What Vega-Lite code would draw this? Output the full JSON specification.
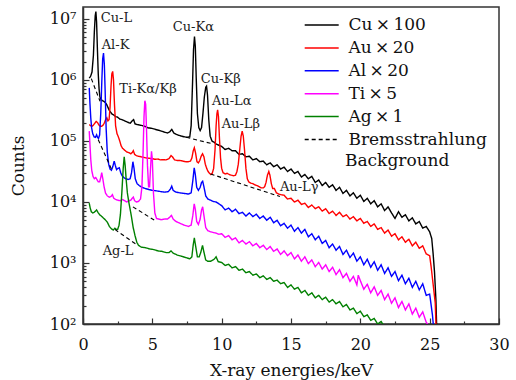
{
  "$schema": "https://vega.github.io/schema/vega-lite/v6.json",
  "width": 416,
  "height": 317,
  "autosize": {"type": "none"},
  "padding": {"left": 83, "top": 7, "right": 17, "bottom": 56},
  "config": {
    "view": {"stroke": "#333333", "strokeWidth": 1.5},
    "font": "DejaVu Serif, Liberation Serif, serif",
    "axis": {
      "grid": false,
      "domainColor": "#333333",
      "domainWidth": 1.5,
      "tickColor": "#333333",
      "tickWidth": 1.2,
      "labelFont": "DejaVu Serif, Liberation Serif, serif",
      "labelFontSize": 16,
      "labelColor": "#111111",
      "titleFont": "DejaVu Serif, Liberation Serif, serif",
      "titleFontSize": 17,
      "titleFontWeight": "normal",
      "titleColor": "#111111"
    },
    "legend": {
      "orient": "none",
      "legendX": 230.2,
      "legendY": 9.5,
      "symbolType": "M-2.5,0H2.5",
      "symbolSize": 185,
      "symbolStrokeWidth": 1.5,
      "labelFont": "DejaVu Serif, Liberation Serif, serif",
      "labelFontSize": 17,
      "labelColor": "#111111",
      "labelOffset": 18.2,
      "rowPadding": 4.9,
      "labelLimit": 300
    }
  },
  "datasets": {
    "spectra": [
      {"s":"Cu","e":0.45,"c":1.07e6},{"s":"Cu","e":0.55,"c":1.15e6},{"s":"Cu","e":0.65,"c":1.35e6},{"s":"Cu","e":0.75,"c":2.51e6},{"s":"Cu","e":0.82,"c":6.31e6},{"s":"Cu","e":0.88,"c":1.12e7},{"s":"Cu","e":0.93,"c":1.32e7},{"s":"Cu","e":0.98,"c":8.91e6},{"s":"Cu","e":1.04,"c":3.16e6},{"s":"Cu","e":1.1,"c":1.26e6},{"s":"Cu","e":1.16,"c":7.08e5},{"s":"Cu","e":1.22,"c":5.25e5},{"s":"Cu","e":1.3,"c":4.79e5},{"s":"Cu","e":1.4,"c":4.57e5},{"s":"Cu","e":1.5,"c":4.47e5},{"s":"Cu","e":1.6,"c":4.27e5},{"s":"Cu","e":1.7,"c":3.98e5},{"s":"Cu","e":1.8,"c":3.55e5},{"s":"Cu","e":1.9,"c":3.16e5},{"s":"Cu","e":2.0,"c":2.95e5},{"s":"Cu","e":2.1,"c":2.75e5},{"s":"Cu","e":2.2,"c":2.69e5},{"s":"Cu","e":2.35,"c":2.51e5},{"s":"Cu","e":2.5,"c":2.45e5},{"s":"Cu","e":2.65,"c":2.29e5},{"s":"Cu","e":2.8,"c":2.24e5},{"s":"Cu","e":3.0,"c":2.14e5},{"s":"Cu","e":3.2,"c":2.04e5},{"s":"Cu","e":3.4,"c":1.95e5},{"s":"Cu","e":3.55,"c":2.14e5},{"s":"Cu","e":3.65,"c":2.24e5},{"s":"Cu","e":3.75,"c":1.91e5},{"s":"Cu","e":3.9,"c":1.86e5},{"s":"Cu","e":4.1,"c":1.82e5},{"s":"Cu","e":4.3,"c":1.78e5},{"s":"Cu","e":4.5,"c":1.72e5},{"s":"Cu","e":4.7,"c":1.64e5},{"s":"Cu","e":4.9,"c":1.62e5},{"s":"Cu","e":5.1,"c":1.58e5},{"s":"Cu","e":5.3,"c":1.53e5},{"s":"Cu","e":5.5,"c":1.49e5},{"s":"Cu","e":5.7,"c":1.44e5},{"s":"Cu","e":5.9,"c":1.39e5},{"s":"Cu","e":6.1,"c":1.35e5},{"s":"Cu","e":6.25,"c":1.41e5},{"s":"Cu","e":6.4,"c":1.55e5},{"s":"Cu","e":6.55,"c":1.35e5},{"s":"Cu","e":6.7,"c":1.29e5},{"s":"Cu","e":6.9,"c":1.24e5},{"s":"Cu","e":7.1,"c":1.20e5},{"s":"Cu","e":7.3,"c":1.17e5},{"s":"Cu","e":7.5,"c":1.15e5},{"s":"Cu","e":7.7,"c":1.17e5},{"s":"Cu","e":7.8,"c":1.78e5},{"s":"Cu","e":7.9,"c":8.91e5},{"s":"Cu","e":7.97,"c":3.16e6},{"s":"Cu","e":8.04,"c":5.13e6},{"s":"Cu","e":8.1,"c":3.55e6},{"s":"Cu","e":8.17,"c":1.0e6},{"s":"Cu","e":8.25,"c":2.82e5},{"s":"Cu","e":8.35,"c":1.66e5},{"s":"Cu","e":8.45,"c":1.48e5},{"s":"Cu","e":8.55,"c":1.66e5},{"s":"Cu","e":8.65,"c":2.82e5},{"s":"Cu","e":8.75,"c":5.25e5},{"s":"Cu","e":8.85,"c":7.59e5},{"s":"Cu","e":8.91,"c":7.94e5},{"s":"Cu","e":8.98,"c":5.62e5},{"s":"Cu","e":9.07,"c":2.24e5},{"s":"Cu","e":9.17,"c":1.20e5},{"s":"Cu","e":9.3,"c":1.0e5},{"s":"Cu","e":9.45,"c":9.55e4},{"s":"Cu","e":9.6,"c":8.91e4},{"s":"Cu","e":9.8,"c":8.51e4},
      {"s":"Cu","e":10.0,"c":8.13e4},{"s":"Cu","e":10.25,"c":7.24e4},{"s":"Cu","e":10.5,"c":7.59e4},{"s":"Cu","e":10.75,"c":6.92e4},{"s":"Cu","e":11.0,"c":6.92e4},{"s":"Cu","e":11.25,"c":6.03e4},{"s":"Cu","e":11.5,"c":6.17e4},{"s":"Cu","e":11.75,"c":5.50e4},{"s":"Cu","e":12.0,"c":5.62e4},{"s":"Cu","e":12.25,"c":4.90e4},{"s":"Cu","e":12.5,"c":5.13e4},{"s":"Cu","e":12.75,"c":4.57e4},{"s":"Cu","e":13.0,"c":4.68e4},{"s":"Cu","e":13.25,"c":4.07e4},{"s":"Cu","e":13.5,"c":4.37e4},{"s":"Cu","e":13.75,"c":3.80e4},{"s":"Cu","e":14.0,"c":4.07e4},{"s":"Cu","e":14.25,"c":3.47e4},{"s":"Cu","e":14.5,"c":3.72e4},{"s":"Cu","e":14.75,"c":3.16e4},{"s":"Cu","e":15.0,"c":3.47e4},{"s":"Cu","e":15.25,"c":2.95e4},{"s":"Cu","e":15.5,"c":3.16e4},{"s":"Cu","e":15.75,"c":2.57e4},{"s":"Cu","e":16.0,"c":2.82e4},{"s":"Cu","e":16.25,"c":2.40e4},{"s":"Cu","e":16.5,"c":2.63e4},{"s":"Cu","e":16.75,"c":2.09e4},{"s":"Cu","e":17.0,"c":2.29e4},{"s":"Cu","e":17.25,"c":1.86e4},{"s":"Cu","e":17.5,"c":2.09e4},{"s":"Cu","e":17.75,"c":1.74e4},{"s":"Cu","e":18.0,"c":1.91e4},{"s":"Cu","e":18.25,"c":1.55e4},{"s":"Cu","e":18.5,"c":1.74e4},{"s":"Cu","e":18.75,"c":1.38e4},{"s":"Cu","e":19.0,"c":1.55e4},{"s":"Cu","e":19.25,"c":1.26e4},{"s":"Cu","e":19.5,"c":1.41e4},{"s":"Cu","e":19.75,"c":1.15e4},{"s":"Cu","e":20.0,"c":1.29e4},{"s":"Cu","e":20.25,"c":1.02e4},{"s":"Cu","e":20.5,"c":1.15e4},{"s":"Cu","e":20.75,"c":9.33e3},{"s":"Cu","e":21.0,"c":1.05e4},{"s":"Cu","e":21.25,"c":8.32e3},{"s":"Cu","e":21.5,"c":9.33e3},{"s":"Cu","e":21.75,"c":7.24e3},{"s":"Cu","e":22.0,"c":8.32e3},{"s":"Cu","e":22.25,"c":6.61e3},{"s":"Cu","e":22.5,"c":5.37e3},{"s":"Cu","e":22.75,"c":6.92e3},{"s":"Cu","e":23.0,"c":5.62e3},{"s":"Cu","e":23.25,"c":6.17e3},{"s":"Cu","e":23.5,"c":4.90e3},{"s":"Cu","e":23.75,"c":5.50e3},{"s":"Cu","e":24.0,"c":4.37e3},{"s":"Cu","e":24.25,"c":4.79e3},{"s":"Cu","e":24.5,"c":3.72e3},{"s":"Cu","e":24.75,"c":3.98e3},{"s":"Cu","e":25.0,"c":3.24e3},{"s":"Cu","e":25.15,"c":2.51e3},{"s":"Cu","e":25.25,"c":1.41e3},{"s":"Cu","e":25.35,"c":708},{"s":"Cu","e":25.45,"c":251},{"s":"Cu","e":25.55,"c":40},

      {"s":"Au","e":0.45,"c":1.86e5},{"s":"Au","e":0.55,"c":1.78e5},{"s":"Au","e":0.65,"c":1.74e5},{"s":"Au","e":0.75,"c":1.82e5},{"s":"Au","e":0.85,"c":1.95e5},{"s":"Au","e":0.95,"c":2.09e5},{"s":"Au","e":1.05,"c":2.0e5},{"s":"Au","e":1.15,"c":1.82e5},{"s":"Au","e":1.25,"c":1.74e5},{"s":"Au","e":1.35,"c":1.74e5},{"s":"Au","e":1.45,"c":1.82e5},{"s":"Au","e":1.55,"c":2.0e5},{"s":"Au","e":1.65,"c":2.29e5},{"s":"Au","e":1.72,"c":2.40e5},{"s":"Au","e":1.8,"c":2.14e5},{"s":"Au","e":1.88,"c":2.24e5},{"s":"Au","e":1.95,"c":3.55e5},{"s":"Au","e":2.02,"c":7.94e5},{"s":"Au","e":2.08,"c":1.26e6},{"s":"Au","e":2.14,"c":1.38e6},{"s":"Au","e":2.2,"c":1.0e6},{"s":"Au","e":2.27,"c":3.98e5},{"s":"Au","e":2.35,"c":1.78e5},{"s":"Au","e":2.45,"c":1.32e5},{"s":"Au","e":2.55,"c":1.17e5},{"s":"Au","e":2.65,"c":1.0e5},{"s":"Au","e":2.75,"c":8.32e4},{"s":"Au","e":2.85,"c":7.59e4},{"s":"Au","e":3.0,"c":7.08e4},{"s":"Au","e":3.15,"c":6.61e4},{"s":"Au","e":3.3,"c":6.46e4},{"s":"Au","e":3.45,"c":6.17e4},{"s":"Au","e":3.55,"c":6.46e4},{"s":"Au","e":3.63,"c":6.92e4},{"s":"Au","e":3.72,"c":6.03e4},{"s":"Au","e":3.85,"c":5.75e4},{"s":"Au","e":4.0,"c":5.62e4},{"s":"Au","e":4.2,"c":5.50e4},{"s":"Au","e":4.4,"c":5.37e4},{"s":"Au","e":4.6,"c":5.25e4},{"s":"Au","e":4.8,"c":5.20e4},{"s":"Au","e":5.0,"c":5.13e4},{"s":"Au","e":5.2,"c":5.01e4},{"s":"Au","e":5.4,"c":5.05e4},{"s":"Au","e":5.6,"c":4.90e4},{"s":"Au","e":5.8,"c":4.93e4},{"s":"Au","e":6.0,"c":4.90e4},{"s":"Au","e":6.2,"c":5.13e4},{"s":"Au","e":6.35,"c":5.75e4},{"s":"Au","e":6.45,"c":5.50e4},{"s":"Au","e":6.6,"c":4.90e4},{"s":"Au","e":6.8,"c":4.79e4},{"s":"Au","e":7.0,"c":4.79e4},{"s":"Au","e":7.2,"c":4.68e4},{"s":"Au","e":7.4,"c":4.57e4},{"s":"Au","e":7.6,"c":4.57e4},{"s":"Au","e":7.75,"c":4.68e4},{"s":"Au","e":7.85,"c":5.25e4},{"s":"Au","e":7.95,"c":6.92e4},{"s":"Au","e":8.03,"c":7.76e4},{"s":"Au","e":8.12,"c":6.31e4},{"s":"Au","e":8.22,"c":4.57e4},{"s":"Au","e":8.32,"c":4.37e4},{"s":"Au","e":8.42,"c":4.79e4},{"s":"Au","e":8.52,"c":5.62e4},{"s":"Au","e":8.62,"c":6.17e4},{"s":"Au","e":8.72,"c":5.50e4},{"s":"Au","e":8.82,"c":4.17e4},{"s":"Au","e":8.92,"c":3.55e4},{"s":"Au","e":9.02,"c":3.16e4},{"s":"Au","e":9.12,"c":2.95e4},{"s":"Au","e":9.22,"c":2.82e4},{"s":"Au","e":9.32,"c":2.95e4},{"s":"Au","e":9.42,"c":3.55e4},{"s":"Au","e":9.52,"c":7.08e4},{"s":"Au","e":9.6,"c":1.78e5},{"s":"Au","e":9.66,"c":2.82e5},{"s":"Au","e":9.71,"c":3.24e5},{"s":"Au","e":9.77,"c":2.51e5},{"s":"Au","e":9.84,"c":1.12e5},{"s":"Au","e":9.92,"c":5.25e4},{"s":"Au","e":10.0,"c":3.55e4},{"s":"Au","e":10.1,"c":3.02e4},{"s":"Au","e":10.25,"c":2.88e4},{"s":"Au","e":10.4,"c":2.95e4},{"s":"Au","e":10.55,"c":2.82e4},{"s":"Au","e":10.7,"c":2.75e4},{"s":"Au","e":10.85,"c":2.69e4},{"s":"Au","e":11.0,"c":2.75e4},{"s":"Au","e":11.1,"c":3.16e4},{"s":"Au","e":11.2,"c":4.17e4},{"s":"Au","e":11.3,"c":7.08e4},{"s":"Au","e":11.4,"c":1.20e5},{"s":"Au","e":11.48,"c":1.45e5},{"s":"Au","e":11.56,"c":1.20e5},{"s":"Au","e":11.65,"c":7.08e4},{"s":"Au","e":11.75,"c":3.55e4},{"s":"Au","e":11.85,"c":2.40e4},{"s":"Au","e":11.95,"c":2.14e4},{"s":"Au","e":12.1,"c":2.04e4},{"s":"Au","e":12.25,"c":2.0e4},{"s":"Au","e":12.4,"c":1.91e4},{"s":"Au","e":12.55,"c":1.86e4},{"s":"Au","e":12.7,"c":1.78e4},{"s":"Au","e":12.85,"c":1.70e4},{"s":"Au","e":13.0,"c":1.70e4},{"s":"Au","e":13.1,"c":1.78e4},{"s":"Au","e":13.2,"c":2.09e4},{"s":"Au","e":13.3,"c":2.75e4},{"s":"Au","e":13.4,"c":3.16e4},{"s":"Au","e":13.48,"c":2.75e4},{"s":"Au","e":13.58,"c":2.0e4},{"s":"Au","e":13.68,"c":1.66e4},{"s":"Au","e":13.8,"c":1.66e4},{"s":"Au","e":13.95,"c":1.41e4},{"s":"Au","e":14.1,"c":1.35e4},{"s":"Au","e":14.25,"c":1.32e4},
      {"s":"Au","e":14.5,"c":1.29e4},{"s":"Au","e":14.75,"c":1.12e4},{"s":"Au","e":15.0,"c":1.15e4},{"s":"Au","e":15.25,"c":1.0e4},{"s":"Au","e":15.5,"c":1.07e4},{"s":"Au","e":15.75,"c":9.12e3},{"s":"Au","e":16.0,"c":9.55e3},{"s":"Au","e":16.25,"c":8.13e3},{"s":"Au","e":16.5,"c":8.91e3},{"s":"Au","e":16.75,"c":7.76e3},{"s":"Au","e":17.0,"c":8.32e3},{"s":"Au","e":17.25,"c":7.08e3},{"s":"Au","e":17.5,"c":7.76e3},{"s":"Au","e":17.75,"c":6.46e3},{"s":"Au","e":18.0,"c":7.08e3},{"s":"Au","e":18.25,"c":6.03e3},{"s":"Au","e":18.5,"c":6.76e3},{"s":"Au","e":18.75,"c":5.75e3},{"s":"Au","e":19.0,"c":6.17e3},{"s":"Au","e":19.25,"c":5.25e3},{"s":"Au","e":19.5,"c":5.75e3},{"s":"Au","e":19.75,"c":4.90e3},{"s":"Au","e":20.0,"c":5.37e3},{"s":"Au","e":20.25,"c":4.47e3},{"s":"Au","e":20.5,"c":4.79e3},{"s":"Au","e":20.75,"c":3.98e3},{"s":"Au","e":21.0,"c":4.37e3},{"s":"Au","e":21.25,"c":3.55e3},{"s":"Au","e":21.5,"c":3.80e3},{"s":"Au","e":21.75,"c":3.09e3},{"s":"Au","e":22.0,"c":3.47e3},{"s":"Au","e":22.25,"c":2.75e3},{"s":"Au","e":22.5,"c":3.02e3},{"s":"Au","e":22.75,"c":2.40e3},{"s":"Au","e":23.0,"c":2.69e3},{"s":"Au","e":23.25,"c":2.19e3},{"s":"Au","e":23.5,"c":2.45e3},{"s":"Au","e":23.75,"c":1.91e3},{"s":"Au","e":24.0,"c":2.19e3},{"s":"Au","e":24.25,"c":1.74e3},{"s":"Au","e":24.5,"c":1.91e3},{"s":"Au","e":24.75,"c":1.41e3},{"s":"Au","e":25.0,"c":1.32e3},{"s":"Au","e":25.1,"c":891},{"s":"Au","e":25.2,"c":562},{"s":"Au","e":25.3,"c":355},{"s":"Au","e":25.4,"c":224},{"s":"Au","e":25.5,"c":50},

      {"s":"Al","e":0.45,"c":7.41e5},{"s":"Al","e":0.5,"c":4.17e5},{"s":"Al","e":0.56,"c":2.40e5},{"s":"Al","e":0.62,"c":1.66e5},{"s":"Al","e":0.7,"c":1.32e5},{"s":"Al","e":0.8,"c":1.17e5},{"s":"Al","e":0.9,"c":1.15e5},{"s":"Al","e":0.98,"c":1.26e5},{"s":"Al","e":1.05,"c":1.15e5},{"s":"Al","e":1.12,"c":1.10e5},{"s":"Al","e":1.2,"c":1.26e5},{"s":"Al","e":1.28,"c":2.82e5},{"s":"Al","e":1.36,"c":1.0e6},{"s":"Al","e":1.42,"c":2.24e6},{"s":"Al","e":1.48,"c":2.75e6},{"s":"Al","e":1.54,"c":1.78e6},{"s":"Al","e":1.6,"c":6.31e5},{"s":"Al","e":1.67,"c":1.58e5},{"s":"Al","e":1.75,"c":6.61e4},{"s":"Al","e":1.85,"c":4.17e4},{"s":"Al","e":1.95,"c":3.47e4},{"s":"Al","e":2.05,"c":3.31e4},{"s":"Al","e":2.15,"c":3.80e4},{"s":"Al","e":2.25,"c":4.68e4},{"s":"Al","e":2.33,"c":3.98e4},{"s":"Al","e":2.42,"c":3.39e4},{"s":"Al","e":2.52,"c":3.55e4},{"s":"Al","e":2.62,"c":3.63e4},{"s":"Al","e":2.72,"c":3.02e4},{"s":"Al","e":2.82,"c":2.69e4},{"s":"Al","e":2.95,"c":2.51e4},{"s":"Al","e":3.1,"c":2.40e4},{"s":"Al","e":3.25,"c":2.34e4},{"s":"Al","e":3.4,"c":2.40e4},{"s":"Al","e":3.5,"c":3.02e4},{"s":"Al","e":3.6,"c":4.57e4},{"s":"Al","e":3.68,"c":3.55e4},{"s":"Al","e":3.77,"c":2.40e4},{"s":"Al","e":3.9,"c":2.0e4},{"s":"Al","e":4.05,"c":1.86e4},{"s":"Al","e":4.25,"c":1.74e4},{"s":"Al","e":4.5,"c":1.66e4},{"s":"Al","e":4.75,"c":1.60e4},{"s":"Al","e":5.0,"c":1.55e4},{"s":"Al","e":5.3,"c":1.52e4},{"s":"Al","e":5.6,"c":1.48e4},{"s":"Al","e":5.9,"c":1.45e4},{"s":"Al","e":6.15,"c":1.48e4},{"s":"Al","e":6.3,"c":1.62e4},{"s":"Al","e":6.4,"c":1.82e4},{"s":"Al","e":6.5,"c":1.55e4},{"s":"Al","e":6.7,"c":1.45e4},{"s":"Al","e":7.0,"c":1.41e4},{"s":"Al","e":7.3,"c":1.38e4},{"s":"Al","e":7.6,"c":1.35e4},{"s":"Al","e":7.8,"c":1.41e4},{"s":"Al","e":7.92,"c":2.24e4},{"s":"Al","e":8.02,"c":3.63e4},{"s":"Al","e":8.1,"c":2.82e4},{"s":"Al","e":8.2,"c":1.74e4},{"s":"Al","e":8.32,"c":1.55e4},{"s":"Al","e":8.45,"c":1.74e4},{"s":"Al","e":8.55,"c":2.09e4},{"s":"Al","e":8.63,"c":2.19e4},{"s":"Al","e":8.72,"c":1.78e4},{"s":"Al","e":8.85,"c":1.26e4},{"s":"Al","e":9.0,"c":1.12e4},{"s":"Al","e":9.2,"c":1.07e4},{"s":"Al","e":9.4,"c":1.02e4},{"s":"Al","e":9.6,"c":1.0e4},{"s":"Al","e":9.8,"c":9.33e3},
      {"s":"Al","e":10.0,"c":8.71e3},{"s":"Al","e":10.25,"c":7.41e3},{"s":"Al","e":10.5,"c":7.94e3},{"s":"Al","e":10.75,"c":6.92e3},{"s":"Al","e":11.0,"c":7.59e3},{"s":"Al","e":11.25,"c":6.46e3},{"s":"Al","e":11.5,"c":6.76e3},{"s":"Al","e":11.75,"c":5.89e3},{"s":"Al","e":12.0,"c":6.61e3},{"s":"Al","e":12.25,"c":5.75e3},{"s":"Al","e":12.5,"c":6.31e3},{"s":"Al","e":12.75,"c":5.37e3},{"s":"Al","e":13.0,"c":5.89e3},{"s":"Al","e":13.25,"c":5.01e3},{"s":"Al","e":13.5,"c":5.62e3},{"s":"Al","e":13.75,"c":4.57e3},{"s":"Al","e":14.0,"c":5.01e3},{"s":"Al","e":14.25,"c":4.07e3},{"s":"Al","e":14.5,"c":4.47e3},{"s":"Al","e":14.75,"c":3.72e3},{"s":"Al","e":15.0,"c":4.17e3},{"s":"Al","e":15.25,"c":3.31e3},{"s":"Al","e":15.5,"c":3.80e3},{"s":"Al","e":15.75,"c":3.09e3},{"s":"Al","e":16.0,"c":3.55e3},{"s":"Al","e":16.25,"c":2.69e3},{"s":"Al","e":16.5,"c":3.02e3},{"s":"Al","e":16.75,"c":2.40e3},{"s":"Al","e":17.0,"c":2.75e3},{"s":"Al","e":17.25,"c":2.09e3},{"s":"Al","e":17.5,"c":2.34e3},{"s":"Al","e":17.75,"c":1.78e3},{"s":"Al","e":18.0,"c":2.04e3},{"s":"Al","e":18.25,"c":1.62e3},{"s":"Al","e":18.5,"c":1.86e3},{"s":"Al","e":18.75,"c":1.38e3},{"s":"Al","e":19.0,"c":1.62e3},{"s":"Al","e":19.25,"c":1.23e3},{"s":"Al","e":19.5,"c":1.45e3},{"s":"Al","e":19.75,"c":1.07e3},{"s":"Al","e":20.0,"c":1.26e3},{"s":"Al","e":20.25,"c":933},{"s":"Al","e":20.5,"c":1.15e3},{"s":"Al","e":20.75,"c":851},{"s":"Al","e":21.0,"c":1.05e3},{"s":"Al","e":21.25,"c":759},{"s":"Al","e":21.5,"c":933},{"s":"Al","e":21.75,"c":676},{"s":"Al","e":22.0,"c":832},{"s":"Al","e":22.25,"c":603},{"s":"Al","e":22.5,"c":724},{"s":"Al","e":22.75,"c":513},{"s":"Al","e":23.0,"c":631},{"s":"Al","e":23.25,"c":457},{"s":"Al","e":23.5,"c":562},{"s":"Al","e":23.75,"c":398},{"s":"Al","e":24.0,"c":501},{"s":"Al","e":24.25,"c":363},{"s":"Al","e":24.5,"c":457},{"s":"Al","e":24.75,"c":295},{"s":"Al","e":25.0,"c":309},{"s":"Al","e":25.1,"c":209},{"s":"Al","e":25.2,"c":141},{"s":"Al","e":25.3,"c":79},{"s":"Al","e":25.35,"c":40},

      {"s":"Ti","e":0.45,"c":1.45e5},{"s":"Ti","e":0.5,"c":8.91e4},{"s":"Ti","e":0.56,"c":5.01e4},{"s":"Ti","e":0.63,"c":3.31e4},{"s":"Ti","e":0.72,"c":2.63e4},{"s":"Ti","e":0.82,"c":2.40e4},{"s":"Ti","e":0.92,"c":2.51e4},{"s":"Ti","e":1.0,"c":2.34e4},{"s":"Ti","e":1.1,"c":2.14e4},{"s":"Ti","e":1.2,"c":2.14e4},{"s":"Ti","e":1.28,"c":2.51e4},{"s":"Ti","e":1.35,"c":3.02e4},{"s":"Ti","e":1.43,"c":2.40e4},{"s":"Ti","e":1.52,"c":1.78e4},{"s":"Ti","e":1.62,"c":1.41e4},{"s":"Ti","e":1.75,"c":1.26e4},{"s":"Ti","e":1.9,"c":1.20e4},{"s":"Ti","e":2.02,"c":1.23e4},{"s":"Ti","e":2.12,"c":1.32e4},{"s":"Ti","e":2.22,"c":1.15e4},{"s":"Ti","e":2.35,"c":1.10e4},{"s":"Ti","e":2.5,"c":1.07e4},{"s":"Ti","e":2.7,"c":1.05e4},{"s":"Ti","e":2.85,"c":1.10e4},{"s":"Ti","e":3.0,"c":1.05e4},{"s":"Ti","e":3.15,"c":1.0e4},{"s":"Ti","e":3.3,"c":1.05e4},{"s":"Ti","e":3.45,"c":1.07e4},{"s":"Ti","e":3.55,"c":1.15e4},{"s":"Ti","e":3.63,"c":1.20e4},{"s":"Ti","e":3.72,"c":1.05e4},{"s":"Ti","e":3.85,"c":1.0e4},{"s":"Ti","e":4.0,"c":1.02e4},{"s":"Ti","e":4.15,"c":1.12e4},{"s":"Ti","e":4.25,"c":1.78e4},{"s":"Ti","e":4.33,"c":6.31e4},{"s":"Ti","e":4.4,"c":2.51e5},{"s":"Ti","e":4.46,"c":4.57e5},{"s":"Ti","e":4.52,"c":3.98e5},{"s":"Ti","e":4.58,"c":1.58e5},{"s":"Ti","e":4.65,"c":3.98e4},{"s":"Ti","e":4.73,"c":1.78e4},{"s":"Ti","e":4.8,"c":1.78e4},{"s":"Ti","e":4.87,"c":3.55e4},{"s":"Ti","e":4.94,"c":6.76e4},{"s":"Ti","e":5.0,"c":5.01e4},{"s":"Ti","e":5.08,"c":1.41e4},{"s":"Ti","e":5.18,"c":6.61e3},{"s":"Ti","e":5.3,"c":5.37e3},{"s":"Ti","e":5.45,"c":5.25e3},{"s":"Ti","e":5.65,"c":5.13e3},{"s":"Ti","e":5.9,"c":5.25e3},{"s":"Ti","e":6.1,"c":5.25e3},{"s":"Ti","e":6.25,"c":5.62e3},{"s":"Ti","e":6.38,"c":6.03e3},{"s":"Ti","e":6.5,"c":5.25e3},{"s":"Ti","e":6.7,"c":4.79e3},{"s":"Ti","e":7.0,"c":4.47e3},{"s":"Ti","e":7.3,"c":4.17e3},{"s":"Ti","e":7.6,"c":3.98e3},{"s":"Ti","e":7.8,"c":4.17e3},{"s":"Ti","e":7.92,"c":6.03e3},{"s":"Ti","e":8.02,"c":9.33e3},{"s":"Ti","e":8.1,"c":7.59e3},{"s":"Ti","e":8.2,"c":4.79e3},{"s":"Ti","e":8.32,"c":4.27e3},{"s":"Ti","e":8.45,"c":5.25e3},{"s":"Ti","e":8.55,"c":7.41e3},{"s":"Ti","e":8.63,"c":8.32e3},{"s":"Ti","e":8.72,"c":6.03e3},{"s":"Ti","e":8.85,"c":3.80e3},{"s":"Ti","e":9.0,"c":3.39e3},{"s":"Ti","e":9.2,"c":3.24e3},{"s":"Ti","e":9.4,"c":3.16e3},{"s":"Ti","e":9.6,"c":3.09e3},{"s":"Ti","e":9.8,"c":2.95e3},
      {"s":"Ti","e":10.0,"c":3.02e3},{"s":"Ti","e":10.25,"c":2.63e3},{"s":"Ti","e":10.5,"c":2.82e3},{"s":"Ti","e":10.75,"c":2.40e3},{"s":"Ti","e":11.0,"c":2.57e3},{"s":"Ti","e":11.25,"c":2.14e3},{"s":"Ti","e":11.5,"c":2.34e3},{"s":"Ti","e":11.75,"c":2.04e3},{"s":"Ti","e":12.0,"c":2.24e3},{"s":"Ti","e":12.25,"c":1.91e3},{"s":"Ti","e":12.5,"c":2.09e3},{"s":"Ti","e":12.75,"c":1.78e3},{"s":"Ti","e":13.0,"c":1.95e3},{"s":"Ti","e":13.25,"c":1.66e3},{"s":"Ti","e":13.5,"c":1.86e3},{"s":"Ti","e":13.75,"c":1.55e3},{"s":"Ti","e":14.0,"c":1.70e3},{"s":"Ti","e":14.25,"c":1.38e3},{"s":"Ti","e":14.5,"c":1.58e3},{"s":"Ti","e":14.75,"c":1.32e3},{"s":"Ti","e":15.0,"c":1.48e3},{"s":"Ti","e":15.25,"c":1.17e3},{"s":"Ti","e":15.5,"c":1.35e3},{"s":"Ti","e":15.75,"c":1.07e3},{"s":"Ti","e":16.0,"c":1.26e3},{"s":"Ti","e":16.25,"c":977},{"s":"Ti","e":16.5,"c":1.12e3},{"s":"Ti","e":16.75,"c":871},{"s":"Ti","e":17.0,"c":1.02e3},{"s":"Ti","e":17.25,"c":794},{"s":"Ti","e":17.5,"c":933},{"s":"Ti","e":17.75,"c":724},{"s":"Ti","e":18.0,"c":851},{"s":"Ti","e":18.25,"c":646},{"s":"Ti","e":18.5,"c":776},{"s":"Ti","e":18.75,"c":575},{"s":"Ti","e":19.0,"c":676},{"s":"Ti","e":19.25,"c":501},{"s":"Ti","e":19.5,"c":603},{"s":"Ti","e":19.75,"c":437},{"s":"Ti","e":19.85,"c":631},{"s":"Ti","e":20.0,"c":513},{"s":"Ti","e":20.25,"c":372},{"s":"Ti","e":20.5,"c":447},{"s":"Ti","e":20.75,"c":324},{"s":"Ti","e":21.0,"c":407},{"s":"Ti","e":21.25,"c":295},{"s":"Ti","e":21.5,"c":355},{"s":"Ti","e":21.75,"c":251},{"s":"Ti","e":22.0,"c":309},{"s":"Ti","e":22.25,"c":219},{"s":"Ti","e":22.5,"c":269},{"s":"Ti","e":22.75,"c":186},{"s":"Ti","e":23.0,"c":234},{"s":"Ti","e":23.25,"c":170},{"s":"Ti","e":23.5,"c":214},{"s":"Ti","e":23.75,"c":145},{"s":"Ti","e":24.0,"c":182},{"s":"Ti","e":24.25,"c":129},{"s":"Ti","e":24.5,"c":158},{"s":"Ti","e":24.75,"c":107},{"s":"Ti","e":25.0,"c":89},{"s":"Ti","e":25.05,"c":63},

      {"s":"Ag","e":0.45,"c":9.55e3},{"s":"Ag","e":0.52,"c":7.94e3},{"s":"Ag","e":0.6,"c":6.92e3},{"s":"Ag","e":0.7,"c":6.61e3},{"s":"Ag","e":0.8,"c":6.76e3},{"s":"Ag","e":0.9,"c":7.08e3},{"s":"Ag","e":0.98,"c":7.41e3},{"s":"Ag","e":1.08,"c":6.76e3},{"s":"Ag","e":1.2,"c":6.17e3},{"s":"Ag","e":1.32,"c":5.89e3},{"s":"Ag","e":1.45,"c":5.50e3},{"s":"Ag","e":1.6,"c":5.13e3},{"s":"Ag","e":1.75,"c":4.68e3},{"s":"Ag","e":1.9,"c":3.98e3},{"s":"Ag","e":2.05,"c":3.63e3},{"s":"Ag","e":2.18,"c":3.47e3},{"s":"Ag","e":2.3,"c":3.72e3},{"s":"Ag","e":2.4,"c":3.55e3},{"s":"Ag","e":2.5,"c":3.55e3},{"s":"Ag","e":2.6,"c":4.17e3},{"s":"Ag","e":2.7,"c":6.31e3},{"s":"Ag","e":2.8,"c":1.41e4},{"s":"Ag","e":2.9,"c":3.55e4},{"s":"Ag","e":2.97,"c":5.50e4},{"s":"Ag","e":3.04,"c":3.98e4},{"s":"Ag","e":3.12,"c":2.24e4},{"s":"Ag","e":3.2,"c":1.41e4},{"s":"Ag","e":3.3,"c":1.0e4},{"s":"Ag","e":3.4,"c":7.59e3},{"s":"Ag","e":3.5,"c":5.62e3},{"s":"Ag","e":3.62,"c":3.80e3},{"s":"Ag","e":3.75,"c":2.82e3},{"s":"Ag","e":3.88,"c":2.19e3},{"s":"Ag","e":4.0,"c":1.95e3},{"s":"Ag","e":4.2,"c":1.82e3},{"s":"Ag","e":4.5,"c":1.78e3},{"s":"Ag","e":4.8,"c":1.70e3},{"s":"Ag","e":5.1,"c":1.66e3},{"s":"Ag","e":5.4,"c":1.58e3},{"s":"Ag","e":5.7,"c":1.55e3},{"s":"Ag","e":6.0,"c":1.48e3},{"s":"Ag","e":6.2,"c":1.48e3},{"s":"Ag","e":6.35,"c":1.58e3},{"s":"Ag","e":6.5,"c":1.45e3},{"s":"Ag","e":6.8,"c":1.35e3},{"s":"Ag","e":7.1,"c":1.29e3},{"s":"Ag","e":7.4,"c":1.23e3},{"s":"Ag","e":7.7,"c":1.17e3},{"s":"Ag","e":7.85,"c":1.26e3},{"s":"Ag","e":7.95,"c":2.0e3},{"s":"Ag","e":8.03,"c":2.57e3},{"s":"Ag","e":8.12,"c":1.91e3},{"s":"Ag","e":8.25,"c":1.26e3},{"s":"Ag","e":8.38,"c":1.26e3},{"s":"Ag","e":8.5,"c":1.51e3},{"s":"Ag","e":8.62,"c":1.95e3},{"s":"Ag","e":8.72,"c":1.51e3},{"s":"Ag","e":8.85,"c":1.12e3},{"s":"Ag","e":9.0,"c":1.07e3},{"s":"Ag","e":9.2,"c":1.07e3},{"s":"Ag","e":9.45,"c":1.15e3},{"s":"Ag","e":9.6,"c":1.26e3},{"s":"Ag","e":9.75,"c":1.05e3},
      {"s":"Ag","e":10.0,"c":1.02e3},{"s":"Ag","e":10.25,"c":912},{"s":"Ag","e":10.5,"c":955},{"s":"Ag","e":10.75,"c":832},{"s":"Ag","e":11.0,"c":871},{"s":"Ag","e":11.25,"c":759},{"s":"Ag","e":11.5,"c":794},{"s":"Ag","e":11.75,"c":692},{"s":"Ag","e":12.0,"c":724},{"s":"Ag","e":12.25,"c":631},{"s":"Ag","e":12.5,"c":661},{"s":"Ag","e":12.75,"c":575},{"s":"Ag","e":13.0,"c":617},{"s":"Ag","e":13.25,"c":537},{"s":"Ag","e":13.5,"c":575},{"s":"Ag","e":13.75,"c":501},{"s":"Ag","e":14.0,"c":525},{"s":"Ag","e":14.25,"c":457},{"s":"Ag","e":14.5,"c":479},{"s":"Ag","e":14.75,"c":398},{"s":"Ag","e":15.0,"c":437},{"s":"Ag","e":15.25,"c":372},{"s":"Ag","e":15.5,"c":398},{"s":"Ag","e":15.75,"c":324},{"s":"Ag","e":16.0,"c":355},{"s":"Ag","e":16.25,"c":295},{"s":"Ag","e":16.5,"c":324},{"s":"Ag","e":16.75,"c":269},{"s":"Ag","e":17.0,"c":295},{"s":"Ag","e":17.25,"c":251},{"s":"Ag","e":17.5,"c":275},{"s":"Ag","e":17.75,"c":229},{"s":"Ag","e":18.0,"c":251},{"s":"Ag","e":18.25,"c":214},{"s":"Ag","e":18.5,"c":234},{"s":"Ag","e":18.75,"c":191},{"s":"Ag","e":19.0,"c":209},{"s":"Ag","e":19.25,"c":170},{"s":"Ag","e":19.5,"c":182},{"s":"Ag","e":19.75,"c":148},{"s":"Ag","e":20.0,"c":162},{"s":"Ag","e":20.25,"c":132},{"s":"Ag","e":20.5,"c":141},{"s":"Ag","e":20.75,"c":115},{"s":"Ag","e":21.0,"c":123},{"s":"Ag","e":21.25,"c":100},{"s":"Ag","e":21.5,"c":110},{"s":"Ag","e":21.75,"c":89},{"s":"Ag","e":22.0,"c":98},{"s":"Ag","e":22.25,"c":79}
    ],
    "background": [
      {"s":"Bg","g":"cu1","e":0.6,"c":1.05e6},{"s":"Bg","g":"cu1","e":1.23,"c":4.47e5},
      {"s":"Bg","g":"cu2","e":7.45,"c":1.15e5},{"s":"Bg","g":"cu2","e":9.4,"c":8.91e4},
      {"s":"Bg","g":"au","e":9.2,"c":2.88e4},{"s":"Bg","g":"au","e":14.2,"c":1.23e4},
      {"s":"Bg","g":"al","e":1.1,"c":1.05e5},{"s":"Bg","g":"al","e":2.07,"c":3.39e4},
      {"s":"Bg","g":"ti","e":3.6,"c":8.32e3},{"s":"Bg","g":"ti","e":5.3,"c":4.79e3},
      {"s":"Bg","g":"ag","e":2.3,"c":3.55e3},{"s":"Bg","g":"ag","e":3.87,"c":2.0e3}
    ],
    "lines": [
      {"t":"Cu-L","e":1.28,"c":1.05e7},
      {"t":"Al-K","e":1.35,"c":3.8e6},
      {"t":"Ti-Kα/Kβ","e":2.62,"c":7.2e5},
      {"t":"Cu-Kα","e":6.47,"c":7.3e6},
      {"t":"Cu-Kβ","e":8.49,"c":1.05e6},
      {"t":"Au-Lα","e":9.3,"c":4.57e5},
      {"t":"Au-Lβ","e":10.0,"c":1.9e5},
      {"t":"Au-Lγ","e":14.2,"c":1.78e4},
      {"t":"Ag-L","e":1.42,"c":1.58e3}
    ],
    "legendtail": [
      {"t":"Background","e":18.89,"c":4.67e4}
    ]
  },
  "encoding": {
    "x": {
      "field": "e",
      "type": "quantitative",
      "scale": {"domain": [0, 30], "nice": false, "zero": false},
      "axis": {
        "title": "X-ray energies/keV",
        "values": [0, 2.5, 5, 7.5, 10, 12.5, 15, 17.5, 20, 22.5, 25, 27.5, 30],
        "labelExpr": "datum.value % 5 == 0 ? datum.label : ''",
        "tickSize": {"condition": {"test": "datum.value % 5 == 0", "value": -6}, "value": -3},
        "labelPadding": 18,
        "titlePadding": 10,
        "labelFlush": false
      }
    },
    "y": {
      "field": "c",
      "type": "quantitative",
      "scale": {"type": "log", "domain": [100, 15700000], "nice": false},
      "axis": {
        "title": "Counts",
        "values": [100, 200, 300, 400, 500, 600, 700, 800, 900, 1000, 2000, 3000, 4000, 5000, 6000, 7000, 8000, 9000, 10000, 20000, 30000, 40000, 50000, 60000, 70000, 80000, 90000, 100000, 200000, 300000, 400000, 500000, 600000, 700000, 800000, 900000, 1000000, 2000000, 3000000, 4000000, 5000000, 6000000, 7000000, 8000000, 9000000, 10000000],
        "labelExpr": "abs(log(datum.value)/LN10 - round(log(datum.value)/LN10)) < 0.01 ? '10' + ['⁰','¹','²','³','⁴','⁵','⁶','⁷','⁸'][round(log(datum.value)/LN10)] : ''",
        "tickSize": {"condition": {"test": "abs(log(datum.value)/LN10 - round(log(datum.value)/LN10)) < 0.01", "value": -6}, "value": -3},
        "labelPadding": 13,
        "titlePadding": 22,
        "labelFlush": false
      }
    }
  },
  "layer": [
    {
      "data": {"name": "spectra"},
      "mark": {"type": "line", "strokeWidth": 1.4, "clip": true},
      "encoding": {
        "color": {
          "field": "s",
          "type": "nominal",
          "scale": {"domain": ["Cu", "Au", "Al", "Ti", "Ag", "Bg"], "range": ["#000000", "#ff0000", "#0000ff", "#ff00ff", "#008000", "#000000"]},
          "legend": {"title": null, "labelFont": "DejaVu Serif, Liberation Serif, serif", "labelExpr": "datum.value == 'Cu' ? 'Cu\u2009×\u2009100' : datum.value == 'Au' ? 'Au\u2009×\u200920' : datum.value == 'Al' ? 'Al\u2009×\u200920' : datum.value == 'Ti' ? 'Ti\u2009×\u20095' : datum.value == 'Ag' ? 'Ag\u2009×\u20091' : 'Bremsstrahlung'"}
        },
        "strokeDash": {
          "field": "s",
          "type": "nominal",
          "scale": {"domain": ["Cu", "Au", "Al", "Ti", "Ag", "Bg"], "range": [[1, 0], [1, 0], [1, 0], [1, 0], [1, 0], [4, 3]]},
          "legend": {"title": null, "labelFont": "DejaVu Serif, Liberation Serif, serif", "labelExpr": "datum.value == 'Cu' ? 'Cu\u2009×\u2009100' : datum.value == 'Au' ? 'Au\u2009×\u200920' : datum.value == 'Al' ? 'Al\u2009×\u200920' : datum.value == 'Ti' ? 'Ti\u2009×\u20095' : datum.value == 'Ag' ? 'Ag\u2009×\u20091' : 'Bremsstrahlung'"}
        }
      }
    },
    {
      "data": {"name": "background"},
      "mark": {"type": "line", "strokeWidth": 1.1, "clip": true},
      "encoding": {
        "detail": {"field": "g", "type": "nominal"},
        "color": {"field": "s", "type": "nominal"},
        "strokeDash": {"field": "s", "type": "nominal"}
      }
    },
    {
      "data": {"name": "lines"},
      "mark": {"type": "text", "align": "left", "baseline": "middle", "font": "DejaVu Serif, Liberation Serif, serif", "fontSize": 13, "color": "#222222"},
      "encoding": {
        "text": {"field": "t", "type": "nominal"}
      }
    },
    {
      "data": {"name": "legendtail"},
      "mark": {"type": "text", "align": "left", "baseline": "middle", "font": "DejaVu Serif, Liberation Serif, serif", "fontSize": 17, "color": "#111111"},
      "encoding": {
        "text": {"field": "t", "type": "nominal"}
      }
    }
  ]
}
